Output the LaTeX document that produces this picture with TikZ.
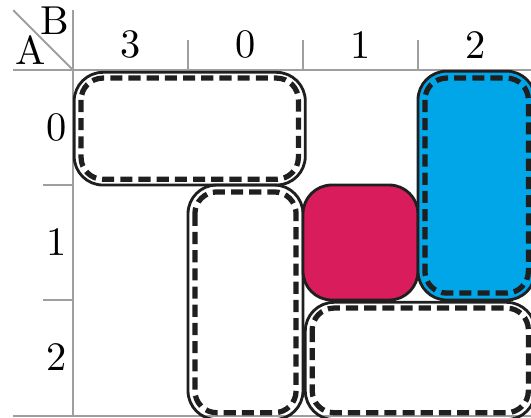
\documentclass[tikz,border=0pt]{standalone}
\definecolor{kmred}{RGB}{216,28,92}
\definecolor{kmblue}{RGB}{0,166,232}
\begin{document}
\begin{tikzpicture}[grid/.style={gray!75,line width=0.45pt},
  implicant/.style={black!88,line width=0.7pt,rounded corners=0.25cm},
  dashbox/.style={black!88,line width=1.3pt,dash pattern=on 3pt off 1.5pt,rounded corners=0.19cm}]
\useasboundingbox (-0.635,0.609) rectangle (3.983,-3.026);
% table lines
\draw[grid](-0.52,0.52)--(0,0);
\draw[grid](0,0.52)--(0,-3.01);
\draw[grid](-0.52,0)--(4.1,0);
\draw[grid](-0.52,-3.01)--(4.1,-3.01);
\foreach \x in {1,2,3} \draw[grid](\x,0)--(\x,0.26);
\foreach \y in {-1,-2} \draw[grid](-0.26,\y)--(0,\y);
% variables and indices
\node (varA) at (-0.37,0.17){A};
\node (varB) at (-0.16,0.43){B};
\foreach \l [count=\i] in {3,0,1,2} \node (col\i) at (\i-0.5,0.22){\l};
\foreach \l [count=\i] in {0,1,2} \node (row\i) at (-0.14,-\i+0.5){\l};
% implicants
\draw[implicant](0.01,-0.02)rectangle(2.02,-1.0);
\draw[dashbox](0.07,-0.07)rectangle(1.96,-0.95);
\draw[implicant](1.0,-1.0)rectangle(2.0,-3.04);
\draw[dashbox](1.06,-1.06)rectangle(1.94,-2.98);
\draw[implicant,fill=kmred](2.0,-1.0)rectangle(3.0,-2.0);
\draw[implicant,fill=kmblue](3.0,-0.01)rectangle(4.02,-2.0);
\draw[dashbox](3.06,-0.07)rectangle(3.96,-1.94);
\draw[implicant](2.02,-2.02)rectangle(4.02,-3.04);
\draw[dashbox](2.08,-2.07)rectangle(3.96,-2.98);
\end{tikzpicture}
\end{document}
